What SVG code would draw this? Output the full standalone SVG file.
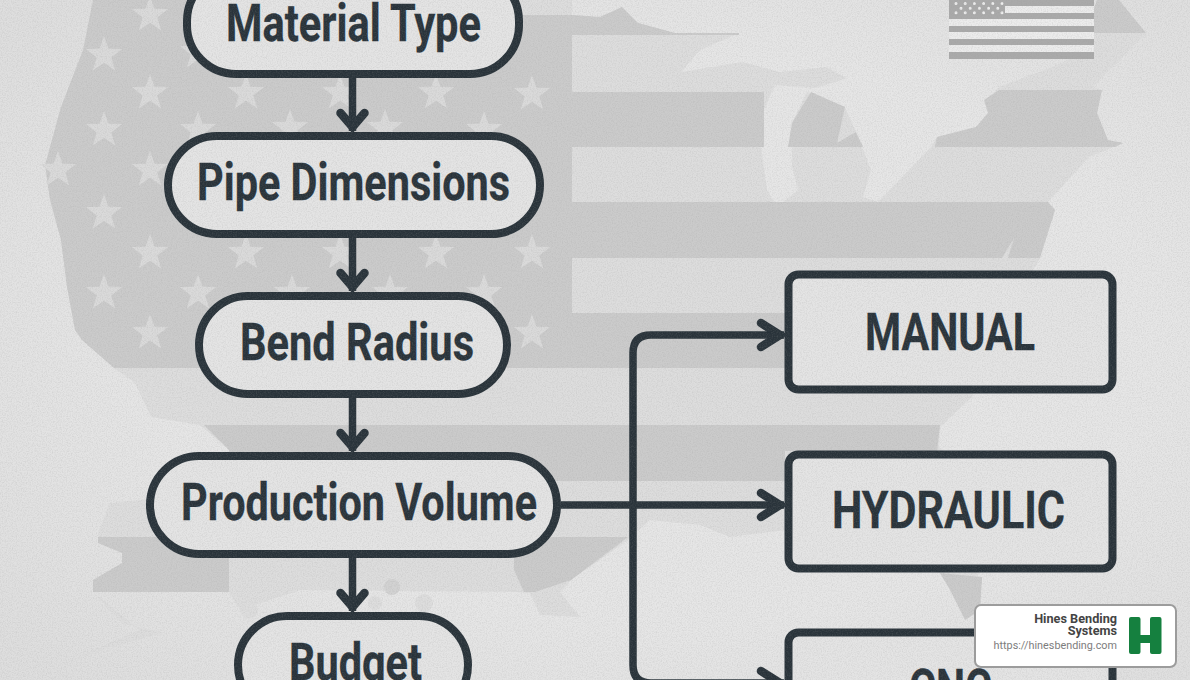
<svg xmlns="http://www.w3.org/2000/svg" xmlns:xlink="http://www.w3.org/1999/xlink" width="1190" height="680" viewBox="0 0 1190 680">
<style>
.mid{fill:#dddddd}
.dark{fill:#cbcbcb}
.star{fill:#dadada}
.flagbar{fill:#aaaaaa}
.dots{fill:none;stroke:#eeeeee;stroke-width:3;stroke-linecap:round;stroke-dasharray:0 9.2}
.node{fill:#e4e4e4;stroke:#29333a;stroke-width:8}
.label{font-family:"Roboto","Liberation Sans",sans-serif;font-weight:700;font-size:52px;fill:#29333a;stroke:#29333a;stroke-width:.3}
.conn{fill:none;stroke:#29333a;stroke-width:7.5;stroke-linecap:butt}
.head{fill:none;stroke:#29333a;stroke-width:8.5;stroke-linecap:round;stroke-linejoin:miter}
.headfill{fill:#29333a}
.brand{font-family:"Roboto","Liberation Sans",sans-serif;text-anchor:end}
</style>
<defs>
<polygon id="s" points="0,-19 4.5,-6.2 18.1,-5.9 7.3,2.4 11.2,15.4 0,7.7 -11.2,15.4 -7.3,2.4 -18.1,-5.9 -4.5,-6.2"/>
<marker id="arrowV" markerUnits="userSpaceOnUse" viewBox="-30 -20 36 40" refX="0" refY="0" markerWidth="36" markerHeight="40" orient="auto" overflow="visible"><path class="head" d="M-18,-12 L-4,0 L-18,12"/><path class="headfill" d="M-12,-7 L0,0 L-12,7z"/></marker>
<marker id="arrowH" markerUnits="userSpaceOnUse" viewBox="-30 -20 36 40" refX="0" refY="0" markerWidth="36" markerHeight="40" orient="auto" overflow="visible"><path class="head" d="M-23,-12 L-4,0 L-23,12"/><path class="headfill" d="M-12,-6 L0,0 L-12,6z"/></marker>
<filter id="grain" x="0" y="0" width="100%" height="100%"><feTurbulence type="fractalNoise" baseFrequency="0.8" numOctaves="2" seed="4"/><feColorMatrix type="matrix" values="0 0 0 0 0.3  0 0 0 0 0.3  0 0 0 0 0.3  1.4 0 0 0 -0.55"/></filter>
<radialGradient id="vig" cx="55%" cy="50%" r="70%"><stop offset="0.6" stop-color="#e6e6e6"/><stop offset="1" stop-color="#dedede"/></radialGradient>
</defs>
<g id="background">
<rect width="1190" height="680" fill="url(#vig)"/>
<polygon class="mid" points="93,0 83,50 61,107 45,165 50,200 61,240 67,287 75,330 82,340 114,368 135,383 151,417 200,425 229,450 240,490 110,503 98,533 98,543 122,553 122,563 93,580 93,592 229,592 240,610 300,590 514,592 530,593 540,615 580,617 560,592 571,580 628,540 650,520 700,525 730,537 785,530 940,573 982,577 980,610 965,620 1000,500 939,447 940,427 972,397 1000,330 1040,258 1055,210 1048,202 1089,157 1123,143 1108,140 1097,113 1102,90 1093,87 1146,33 1119,0 1097,20 1089,50 1052,67 999,87 988,100 988,113 976,127 937,137 931,147 878,202 863,197 871,170 856,132 845,107 807,92 792,123 792,167 798,190 777,207 767,190 758,123 775,85 815,88 847,78 826,67 780,72 743,62 681,72 700,50 739,33 675,33 638,23 622,7 600,17 572,15 572,0"/>
<polygon class="dark" points="93,0 83,50 61,107 45,165 50,200 61,240 67,287 75,330 82,340 114,368 785,368 785,313 572,313 572,15 190,15 190,0"/>
<polygon class="dark" points="572,15 600,17 622,7 638,23 675,33 739,33 739,35 572,35"/>
<rect class="dark" x="572" y="92" width="192" height="55"/>
<polygon class="dark" points="811,92 845,107 837,143 856,132 863,147 788,147 792,123"/>
<polygon class="dark" points="999,90 1102,90 1097,113 1108,140 1123,143 1115,147 935,147 937,137 976,127 988,113 984,100"/>
<polygon class="dark" points="572,202 1048,202 1055,210 1040,258 1008,258 1014,238 1002,258 572,258"/>
<polygon class="dark" points="204,425 940,425 937,451 785,451 785,481 229,481 229,450"/>
<polygon class="dark" points="98,537 229,537 229,592 93,592 93,580 122,563 122,553 98,543"/>
<polygon class="dark" points="514,537 628,537 571,580 535,592 524,592 514,570"/>
<polygon class="dark" points="1085,33 1146,33 1119,0 1097,0"/>
<polygon class="dark" points="940,573 982,577 980,610 965,620 950,590"/>
<polygon class="mid" points="94,593 122,623 163,633 100,650 41,673 140,630"/>
<g class="mid"><circle cx="392" cy="587" r="8" fill="#d2d2d2"/><circle cx="424" cy="603" r="9"/><circle cx="375" cy="603" r="7"/><circle cx="249" cy="610" r="9"/></g>
<g class="star">
<use xlink:href="#s" x="150" y="15"/><use xlink:href="#s" x="246" y="12"/>
<use xlink:href="#s" x="104" y="55"/><use xlink:href="#s" x="198" y="52"/>
<use xlink:href="#s" x="150" y="93"/><use xlink:href="#s" x="246" y="93"/><use xlink:href="#s" x="340" y="93"/><use xlink:href="#s" x="436" y="93"/><use xlink:href="#s" x="532" y="94"/>
<use xlink:href="#s" x="104" y="130"/><use xlink:href="#s" x="198" y="130"/><use xlink:href="#s" x="290" y="128"/><use xlink:href="#s" x="385" y="128"/><use xlink:href="#s" x="484" y="130"/>
<use xlink:href="#s" x="58" y="170"/><use xlink:href="#s" x="150" y="170"/>
<use xlink:href="#s" x="104" y="213"/><use xlink:href="#s" x="198" y="213"/>
<use xlink:href="#s" x="150" y="253"/><use xlink:href="#s" x="246" y="253"/><use xlink:href="#s" x="340" y="253"/><use xlink:href="#s" x="436" y="253"/><use xlink:href="#s" x="532" y="253"/>
<use xlink:href="#s" x="104" y="293"/><use xlink:href="#s" x="198" y="293"/><use xlink:href="#s" x="292" y="293"/><use xlink:href="#s" x="390" y="293"/><use xlink:href="#s" x="484" y="293"/>
<use xlink:href="#s" x="150" y="333"/><use xlink:href="#s" x="532" y="333"/>
</g>
<rect x="949" y="0" width="145" height="59" fill="#ececec"/>
<rect class="flagbar" x="949" y="0" width="145" height="6"/>
<rect class="flagbar" x="949" y="13" width="145" height="6"/>
<rect class="flagbar" x="949" y="26" width="145" height="6"/>
<rect class="flagbar" x="949" y="39" width="145" height="6"/>
<rect class="flagbar" x="949" y="52" width="145" height="7"/>
<rect class="flagbar" x="949" y="0" width="56" height="19"/>
<path class="dots" d="M956,3.5H1004M961,8.3H1002M956,12.7H1004"/>
</g>
<g id="connectors">
<path class="conn" d="M352.5,78V131" marker-end="url(#arrowV)"/>
<path class="conn" d="M352.5,238V291" marker-end="url(#arrowV)"/>
<path class="conn" d="M352.5,398V451" marker-end="url(#arrowV)"/>
<path class="conn" d="M352.5,558V611" marker-end="url(#arrowV)"/>
<path class="conn" d="M633,505V353Q633,335 651,335H784" marker-end="url(#arrowH)"/>
<path class="conn" d="M561,505H784" marker-end="url(#arrowH)"/>
<path class="conn" d="M633,505V665Q633,683 651,683H784" marker-end="url(#arrowH)"/>
</g>
<g id="node-material"><rect class="node" x="187" y="-28" width="332" height="102" rx="49"/><text class="label" x="226" y="41" textLength="255" lengthAdjust="spacingAndGlyphs">Material Type</text></g>
<g id="node-pipe"><rect class="node" x="168" y="136" width="372" height="98" rx="49"/><text class="label" x="197" y="200" textLength="313" lengthAdjust="spacingAndGlyphs">Pipe Dimensions</text></g>
<g id="node-bend"><rect class="node" x="199" y="296" width="308" height="98" rx="49"/><text class="label" x="240" y="360" textLength="234" lengthAdjust="spacingAndGlyphs">Bend Radius</text></g>
<g id="node-production"><rect class="node" x="150" y="456" width="407" height="98" rx="49"/><text class="label" x="181" y="520" textLength="356" lengthAdjust="spacingAndGlyphs">Production Volume</text></g>
<g id="node-budget"><rect class="node" x="238" y="616" width="230" height="98" rx="49"/><text class="label" x="289" y="680" textLength="133" lengthAdjust="spacingAndGlyphs">Budget</text></g>
<g id="node-manual"><rect class="node" x="788.5" y="274.5" width="324" height="115" rx="10"/><text class="label" x="865" y="350" textLength="170" lengthAdjust="spacingAndGlyphs">MANUAL</text></g>
<g id="node-hydraulic"><rect class="node" x="788.5" y="454.5" width="324" height="114" rx="10"/><text class="label" x="832" y="528" textLength="233" lengthAdjust="spacingAndGlyphs">HYDRAULIC</text></g>
<g id="node-cnc"><rect class="node" x="788.5" y="632.5" width="324" height="115" rx="10"/><text class="label" x="909" y="706" textLength="83" lengthAdjust="spacingAndGlyphs">CNC</text></g>
<rect id="grain-layer" width="1190" height="680" filter="url(#grain)" opacity="0.3"/>
<g id="logo">
<rect x="975" y="605" width="201" height="62" rx="6" fill="#ffffff" stroke="#9c9c9c" stroke-width="2"/>
<text class="brand" x="1117" y="623" font-size="12.7" font-weight="700" fill="#444444">Hines Bending</text>
<text class="brand" x="1117" y="635" font-size="12.7" font-weight="700" fill="#444444">Systems</text>
<text class="brand" x="1117" y="649" font-size="10.8" fill="#7d7d7d">https://hinesbending.com</text>
<path d="M1131,617h7.5a2,2 0 0 1 2,2v16h9.5v-16a2,2 0 0 1 2,-2h7.5a2,2 0 0 1 2,2v33a2,2 0 0 1 -2,2h-7.5a2,2 0 0 1 -2,-2v-9h-9.5v9a2,2 0 0 1 -2,2h-7.5a2,2 0 0 1 -2,-2v-33a2,2 0 0 1 2,-2z" fill="#15803f"/>
</g>
</svg>
